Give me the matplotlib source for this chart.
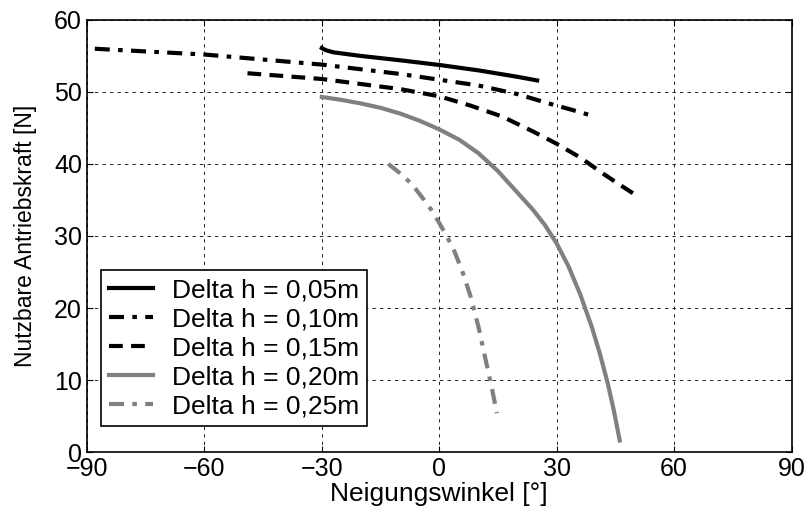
import matplotlib
matplotlib.use('Agg')
import matplotlib.pyplot as plt

plt.rcParams['font.family'] = ['Liberation Sans', 'DejaVu Sans']

# Delta h = 0,05m
x1 = [-30, -29, -27, -20, -10, 0, 10, 20, 25]
y1 = [56.1, 55.8, 55.5, 55.0, 54.4, 53.75, 53.0, 52.1, 51.6]
# Delta h = 0,10m
x2 = [-88, -60, -30, -10, 0, 10, 20, 28, 34, 39]
y2 = [56.0, 55.2, 53.8, 52.5, 51.7, 50.9, 49.7, 48.4, 47.5, 46.7]
# Delta h = 0,15m
x3 = [-49, -30, -10, 0, 8, 16, 24, 30, 36, 42, 47, 51]
y3 = [52.6, 51.8, 50.4, 49.4, 48.1, 46.6, 44.5, 42.8, 40.9, 38.6, 36.8, 35.4]
# Delta h = 0,20m
x4 = [-30, -25, -20, -15, -10, -5, 0, 5, 10, 15, 20, 24, 27, 30, 33, 36, 39, 41, 43,
      44.5, 46.1]
y4 = [49.3, 48.9, 48.4, 47.8, 47.0, 46.0, 44.8, 43.4, 41.5, 39.0, 36.0, 33.6, 31.5,
      28.95, 25.8, 21.9, 17.3, 13.7, 9.6, 6.0, 1.6]
# Delta h = 0,25m
x5 = [-13, -10, -7, -4, -2, 0, 2, 4, 6, 8, 10, 12, 13.5, 14.7]
y5 = [40.0, 38.7, 37.2, 35.1, 33.6, 31.8, 29.9, 27.7, 24.9, 21.6, 17.4, 12.4, 8.7, 5.4]

labels = ['Delta h = 0,05m', 'Delta h = 0,10m', 'Delta h = 0,15m',
          'Delta h = 0,20m', 'Delta h = 0,25m']
xticks = [-90, -60, -30, 0, 30, 60, 90]
yticks = [0, 10, 20, 30, 40, 50, 60]

fig = plt.figure(figsize=(8.09, 5.25), dpi=100)
ax = fig.add_axes([0.1075, 0.139, 0.871, 0.823])

gray = '#808080'
ax.plot(x1, y1, color='black', lw=3, label=labels[0])
ax.plot(x2, y2, color='black', lw=3, dashes=(3.6, 2, 1.1, 2), label=labels[1])
ax.plot(x3, y3, color='black', lw=3, dashes=(3.3, 2), label=labels[2])
ax.plot(x4, y4, color=gray, lw=3, label=labels[3])
ax.plot(x5, y5, color=gray, lw=3, dashes=(3.6, 2, 1.1, 2), label=labels[4])

ax.set_xlim(-90, 90)
ax.set_ylim(0, 60)
ax.set_xticks(xticks)
ax.set_yticks(yticks)
ax.grid(True, color='black', linestyle=(0, (4, 5)), linewidth=0.6)
ax.tick_params(direction='in', length=4, labelsize=18, top=True, right=True)
for s in ax.spines.values():
    s.set_linewidth(1.2)

ax.set_xlabel('Neigungswinkel [°]', fontsize=19, labelpad=1)
ax.set_ylabel('Nutzbare Antriebskraft [N]', fontsize=16.5, labelpad=12)

leg = ax.legend(loc='lower left', bbox_to_anchor=(0.02, 0.06), fontsize=19,
                handlelength=1.67, fancybox=False, framealpha=1,
                edgecolor='black', borderpad=0.3, labelspacing=0.19,
                handletextpad=0.7, borderaxespad=0)
leg.get_frame().set_linewidth(1.2)

fig.savefig('out.png', dpi=100)
